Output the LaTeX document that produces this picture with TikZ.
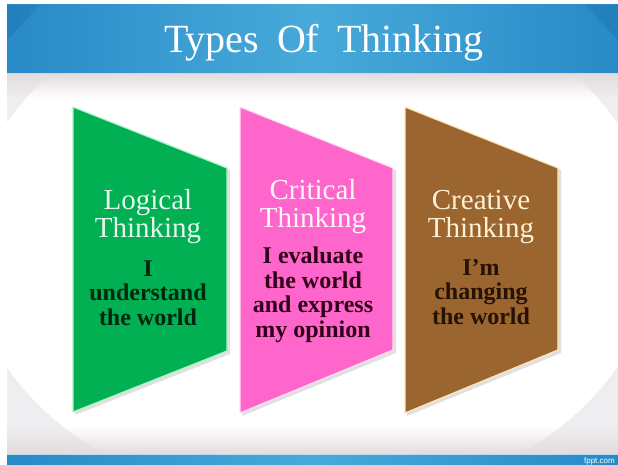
\documentclass[tikz,border=0pt]{standalone}
\usepackage{fontspec}
\setmainfont{Liberation Serif}
\setsansfont{Liberation Sans}
\usetikzlibrary{fadings}

\definecolor{barside}{RGB}{40,138,198}
\definecolor{barmid}{RGB}{72,170,218}
\definecolor{bardark}{RGB}{28,110,170}
\definecolor{stripgrey}{RGB}{228,220,222}
\definecolor{roomgrey}{RGB}{238,238,240}
\definecolor{logicgreen}{RGB}{0,176,82}
\definecolor{logicedge}{RGB}{175,245,200}
\definecolor{logictext}{RGB}{0,38,14}
\definecolor{critpink}{RGB}{255,102,204}
\definecolor{critedge}{RGB}{255,222,240}
\definecolor{crittext}{RGB}{48,0,24}
\definecolor{creabrown}{RGB}{155,101,48}
\definecolor{creaedge}{RGB}{255,232,185}
\definecolor{creatext}{RGB}{38,18,4}

\pgfdeclareradialshading{sphere}{\pgfpoint{0bp}{0bp}}{color(0bp)=(white); color(42bp)=(white); color(49bp)=(roomgrey); color(50bp)=(roomgrey)}

\begin{document}
\begin{tikzpicture}[x=1pt, y=-1pt, line join=round,
	paneltitle/.style={font=\fontsize{29}{28}\selectfont, align=center, anchor=base},
	panelsub/.style={font=\bfseries\fontsize{24}{24.5}\selectfont, align=center, anchor=base},
	panelshadow/.style={fill=black, opacity=0.12}]
		\useasboundingbox (0,0) rectangle (618,465);
		\clip (0,0) rectangle (618,465);
		\fill [white] (0,0) rectangle (618,465);
		
		% room behind the panels
		\fill [roomgrey] (7,73) rectangle (618,454);
		\shade [shading=sphere] (312,245) ellipse [x radius=345pt, y radius=262pt];
		\fill [stripgrey, path fading=south] (7,74) rectangle (618,98);
		\fill [stripgrey, path fading=north] (7,426) rectangle (618,454);
		
		% title bar
		\shade [left color=barside, right color=barside, middle color=barmid] (7,5) rectangle (618,73);
		\fill [bardark, opacity=0.35] (7,5) -- (40,5) -- (7,40) -- cycle;
		\fill [bardark, opacity=0.35] (618,5) -- (585,5) -- (618,40) -- cycle;
		\draw [barmid!40, line width=1.5pt] (7,73.5) -- (618,73.5);
		\node (title) [font=\fontsize{40}{48}\selectfont, text=white, anchor=base] at (324,53) {Types\hspace{0.45em}Of\hspace{0.45em}Thinking};
		
		% bottom bar
		\shade [left color=barside, right color=barside, middle color=barmid] (7,454) rectangle (618,465);
		\draw [barmid!40, line width=1pt] (7,454) -- (618,454);
		\node (fppt) [font=\sffamily\fontsize{8}{8}\selectfont, text=white, anchor=base east, inner sep=0pt] at (615,463) {fppt.com};
		
		% Logical thinking
		\fill [panelshadow] (75,109) -- (230,170) -- (230,354) -- (75,415) -- cycle;
		\draw [logicedge, fill=logicgreen, line width=1.2pt] (73,107) -- (227,168) -- (227,351) -- (73,412) -- cycle;
		\node (logic) [paneltitle, text=white!90!logicgreen] at (148,237) {Logical\\Thinking};
		\node (logicsub) [panelsub, text=logictext] at (148,325) {I\\understand\\the world};
		
		% Critical thinking
		\fill [panelshadow] (242,109) -- (396,170) -- (396,353) -- (242,416) -- cycle;
		\draw [critedge, fill=critpink, line width=1.2pt] (240,107) -- (393,168) -- (393,350) -- (240,413) -- cycle;
		\node (critic) [paneltitle, text=white!94!critpink] at (313,227) {Critical\\Thinking};
		\node (criticsub) [panelsub, text=crittext] at (313,337) {I evaluate\\the world\\and express\\my opinion};
		
		% Creative thinking
		\fill [panelshadow] (407,109) -- (561,170) -- (561,353) -- (407,416) -- cycle;
		\draw [creaedge, fill=creabrown, line width=1.2pt] (405,107) -- (558,168) -- (558,350) -- (405,413) -- cycle;
		\node (creat) [paneltitle, text=creaedge!60!white] at (481,237) {Creative\\Thinking};
		\node (creatsub) [panelsub, text=creatext] at (481,324) {I'm\\changing\\the world};
	\end{tikzpicture}
\end{document}
